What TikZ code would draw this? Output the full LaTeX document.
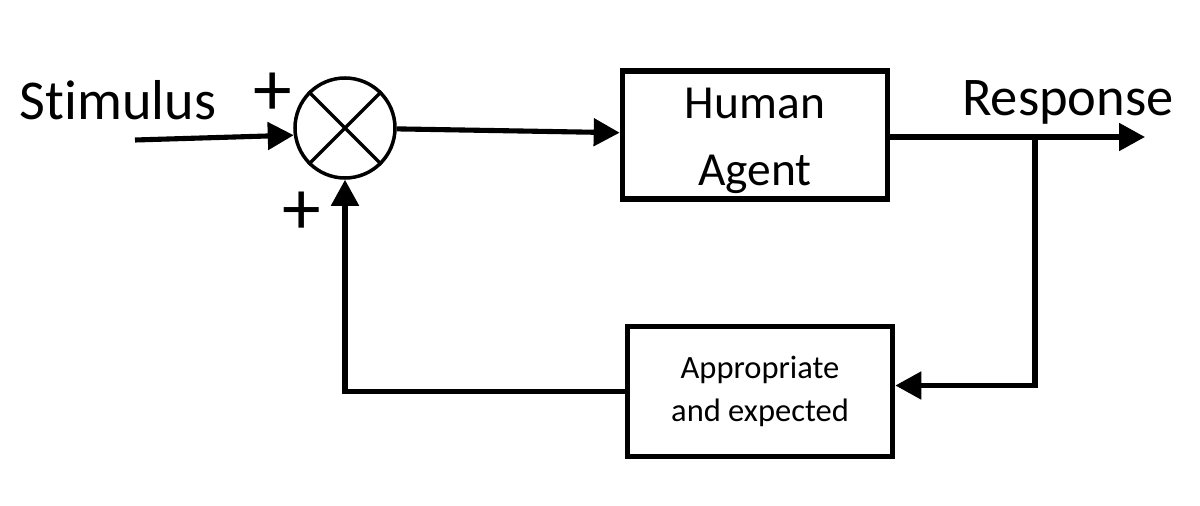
\documentclass[tikz,border=0pt]{standalone}
\usepackage{fontspec}
\setmainfont[Ligatures=NoCommon]{Carlito}
\usetikzlibrary{arrows.meta}
\usetikzlibrary{calc}

\begin{document}
\begin{tikzpicture}[line width=2.9pt, >={Triangle[length=0.52cm,width=0.54cm]},
	block/.style={draw, rectangle, line width=3.2pt, minimum width=5.3cm, inner sep=0pt, align=center},
	summer/.style={draw, circle, line width=2pt, minimum size=2.0cm, inner sep=0pt},
	sign/.style={font=\fontsize{44}{44}\selectfont, inner sep=0pt}]
	\useasboundingbox (0,0) rectangle (24,10.1);
	
	\node[summer] (sum) at (6.9,7.54) {};
	\draw[line width=2pt] (sum.45) -- (sum.225) (sum.135) -- (sum.315);
	\node[block, minimum height=2.55cm] (human) at (15.1,7.4) {};
	\node[align=center, font=\fontsize{27}{38}\selectfont] (humantxt) at ($(human)+(0,-0.12)$) {Human\\Agent};
	\node[block, minimum height=2.6cm, font=\fontsize{18.5}{24}\selectfont] (fb) at (15.2,2.27) {Appropriate\\and expected};
	
	\node[font=\fontsize{32}{32}\selectfont] (stim) at (2.36,8.1) {Stimulus};
	\node[font=\fontsize{31}{31}\selectfont] (resp) at (21.36,8.05) {Response};
	\node[sign] (p1) at (5.45,8.22) {+};
	\node[sign] (p2) at (6.04,5.84) {+};
	
	\coordinate (in) at (2.7,7.3);
	\coordinate (out) at (22.9,7.36);
	\coordinate (branch) at (20.7,7.36);
	
	\draw[->] (in) -- (sum.188);
	\draw[->] (sum) -- (human);
	\draw[->] (human.east |- branch) -- (out);
	\draw[->] (branch) |- ($(fb.east)+(0,0.12)$);
	\draw[->] (fb.west) -| (sum.south);
\end{tikzpicture}
\end{document}
